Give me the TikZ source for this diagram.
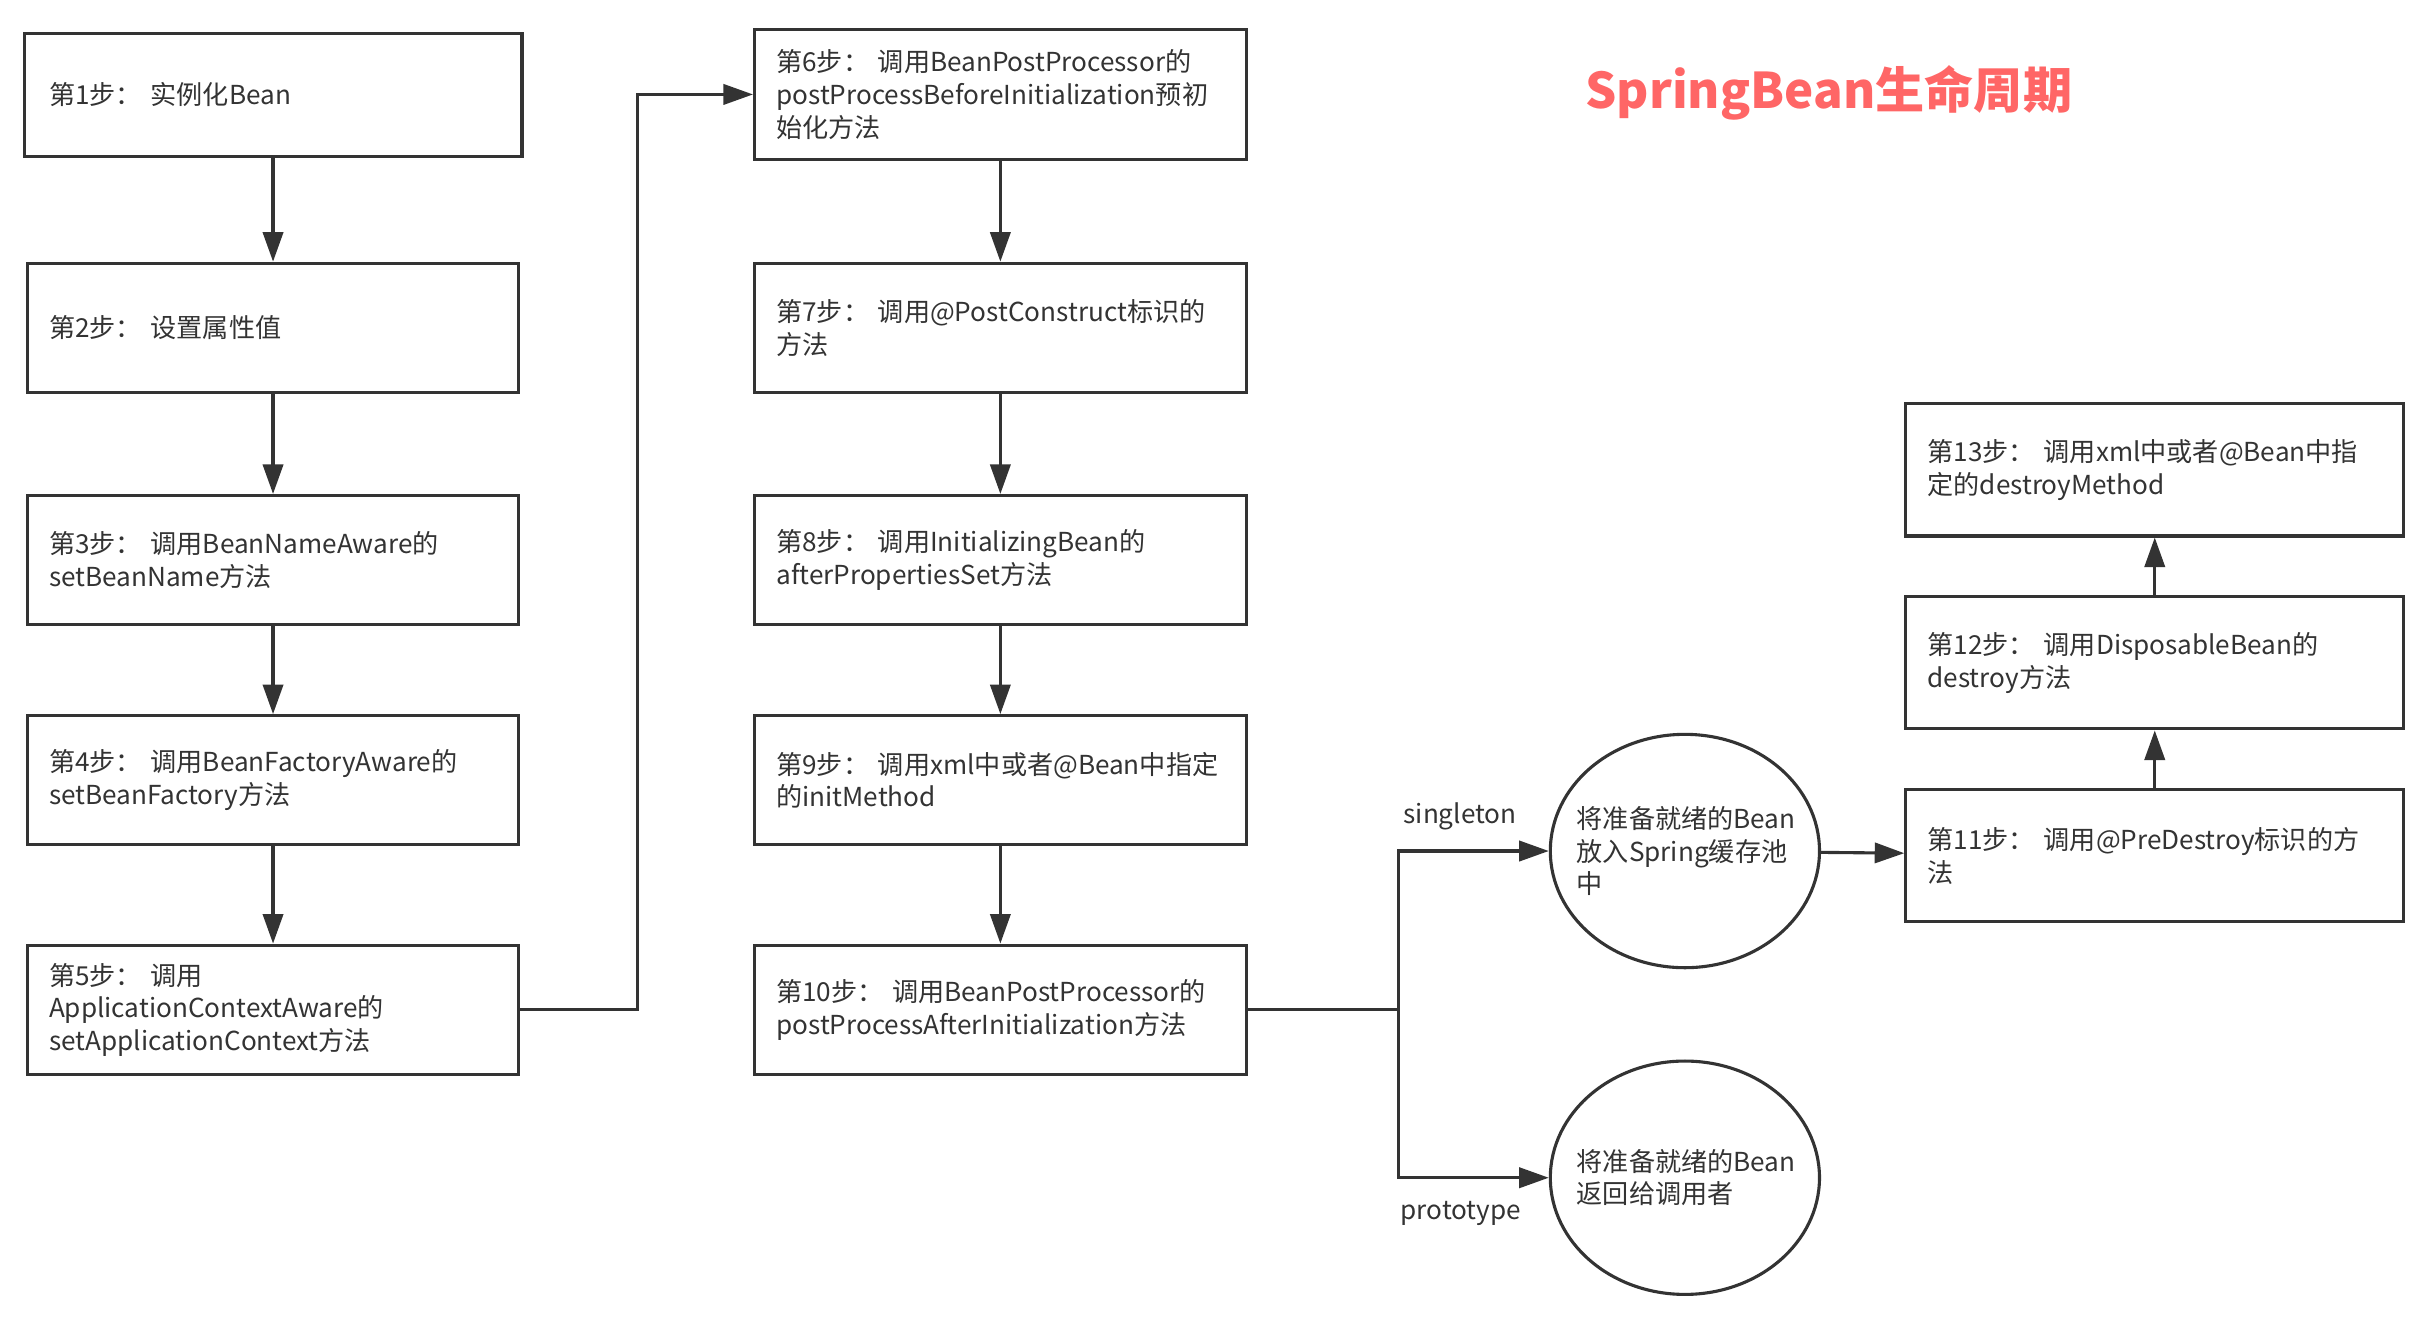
\documentclass[tikz,border=0pt]{standalone}
\usepackage{fontspec}
\setmainfont{Noto Sans CJK SC}
\usepackage{tikz}
\usetikzlibrary{arrows.meta,shapes.geometric}
\definecolor{linegray}{HTML}{333333}
\definecolor{titlered}{HTML}{FF6666}

\begin{document}
\begin{tikzpicture}[x=1pt, y=-1pt,
        every node/.style={font=\fontsize{16.8}{21}\selectfont, text=linegray},
        stepbox/.style={rectangle, draw=linegray, line width=2pt, minimum width=316pt, minimum height=83pt,
            text width=288pt, align=left, inner sep=0pt},
        wideboxes/.style={minimum width=320pt, minimum height=85pt, text width=292pt},
        beanpool/.style={ellipse, draw=linegray, line width=2pt, minimum width=173pt, minimum height=150pt,
            text width=139pt, align=left, inner xsep=-8.5pt, inner ysep=0pt},
        flow/.style={draw=linegray, line width=2pt, -{Triangle[length=19pt, width=13pt]}}]
        \useasboundingbox (0,0) rectangle (1560,846.5);

        % Nodes
        \node[stepbox, minimum width=320pt, minimum height=79pt] (s1) at (175.5,61) {第1步： 实例化Bean};
        \node[stepbox] (s2) at (175.5,210.7) {第2步： 设置属性值};
        \node[stepbox] (s3) at (175.5,360) {第3步： 调用BeanNameAware的\\setBeanName方法};
        \node[stepbox] (s4) at (175.5,501.5) {第4步： 调用BeanFactoryAware的\\setBeanFactory方法};
        \node[stepbox] (s5) at (175.5,649) {第5步： 调用\\ApplicationContextAware的\\setApplicationContext方法};

        \node[stepbox, minimum height=84pt] (s6) at (643,60.7) {第6步： 调用BeanPostProcessor的\\postProcessBeforeInitialization预初\\始化方法};
        \node[stepbox] (s7) at (643,210.7) {第7步： 调用@PostConstruct标识的\\方法};
        \node[stepbox] (s8) at (643,360) {第8步： 调用InitializingBean的\\afterPropertiesSet方法};
        \node[stepbox] (s9) at (643,501.5) {第9步： 调用xml中或者@Bean中指定\\的initMethod};
        \node[stepbox] (s10) at (643,649) {第10步： 调用BeanPostProcessor的\\postProcessAfterInitialization方法};

        \node[beanpool] (e1) at (1083,547) {将准备就绪的Bean\\放入Spring缓存池\\中};
        \node[beanpool] (e2) at (1083,757) {将准备就绪的Bean\\返回给调用者};

        \node[stepbox, wideboxes] (s11) at (1385,550) {第11步： 调用@PreDestroy标识的方\\法};
        \node[stepbox, wideboxes] (s12) at (1385,426) {第12步： 调用DisposableBean的\\destroy方法};
        \node[stepbox, wideboxes] (s13) at (1385,302) {第13步： 调用xml中或者@Bean中指\\定的destroyMethod};

        \node (singleton) at (938.5,525) {singleton};
        \node (prototype) at (939,780) {prototype};
        \node[font=\fontsize{31.6}{36}\selectfont\bfseries, text=titlered] (title) at (1175.5,60) {SpringBean生命周期};

        % Edges
        \draw[flow] (s1) -- (s2);
        \draw[flow] (s2) -- (s3);
        \draw[flow] (s3) -- (s4);
        \draw[flow] (s4) -- (s5);
        \draw[flow] (s5.east) -- ++(75,0) |- (s6.west);
        \draw[flow] (s6) -- (s7);
        \draw[flow] (s7) -- (s8);
        \draw[flow] (s8) -- (s9);
        \draw[flow] (s9) -- (s10);

        % singleton / prototype fork
        \draw[draw=linegray, line width=2pt] (s10.east) -- ++(97,0) coordinate (fork);
        \draw[flow] (fork) |- (e1.west);
        \draw[flow] (fork) |- (e2.west);

        \draw[flow] (e1) -- (s11);
        \draw[flow] (s11) -- (s12);
        \draw[flow] (s12) -- (s13);
    \end{tikzpicture}
\end{document}
